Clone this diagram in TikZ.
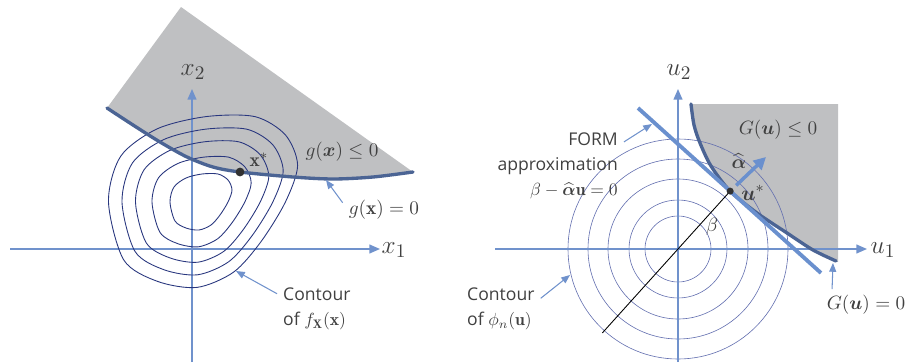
\documentclass[tikz,border=0pt]{standalone}
\usepackage{fontspec}
\usepackage{amsmath}
\usetikzlibrary{arrows.meta, positioning, calc}
\newfontfamily\labelfont{Open Sans}
\definecolor{axisblue}{RGB}{112,146,204}
\definecolor{formblue}{RGB}{106,144,206}
\definecolor{limitblue}{RGB}{75,100,148}
\definecolor{contournavy}{RGB}{40,54,126}
\definecolor{circleblue}{RGB}{100,112,176}
\definecolor{regiongray}{RGB}{191,192,194}
\definecolor{textgray}{RGB}{64,64,64}
\definecolor{dotgray}{RGB}{50,50,50}

\begin{document}
\begin{tikzpicture}[
			x=0.02cm, y=-0.02cm,
			axis/.style={draw=axisblue, line width=0.85pt, -{Triangle[length=6pt,width=5pt]}},
			axislabel/.style={font=\fontsize{15}{18}\selectfont, text=textgray},
			mathlabel/.style={font=\fontsize{11}{13}\selectfont, text=textgray},
			note/.style={font=\labelfont\fontsize{10}{14.2}\selectfont, text=textgray, align=left},
			callout/.style={draw=axisblue, line width=0.6pt, -{Triangle[length=5pt,width=4pt]}},
			contourline/.style={draw=contournavy, line width=0.5pt},
			ringline/.style={draw=circleblue, line width=0.35pt},
			limitline/.style={draw=limitblue, line width=1.9pt, line cap=round},
			formline/.style={draw=formblue, line width=2.2pt},
			alphaarrow/.style={draw=formblue, line width=2pt, -{Triangle[length=7pt,width=7pt]}},
			betaline/.style={draw=black, line width=0.5pt},
			dot/.style={circle, fill=dotgray, inner sep=0pt, minimum size=#1}
			]
			
			\useasboundingbox (0,0) rectangle (910,362);
			
			\fill[regiongray] (181,7) -- plot[smooth] coordinates {(107,108) (133,125) (160,142) (187,157) (213,167) (240,172) (293,177) (333,179) (373,177) (413,172)} -- cycle;
			
			\coordinate (x1from) at (10,249);
			\coordinate (x1to) at (380,249);
			\coordinate (x2from) at (192,362);
			\coordinate (x2to) at (192,89);
			\draw[axis] (x1from) -- (x1to);
			\draw[axis] (x2from) -- (x2to);
			
			\foreach \s in {1,1.6,2.15,2.6,3.05}
			\draw[contourline, shift={(200,202)}, scale=\s] plot[smooth cycle] coordinates {(-30,0) (-26,-15) (-14,-24) (2,-28) (18,-28) (28,-22) (32,-12) (28,0) (20,13) (11,23) (-1,28) (-14,26) (-25,19)};
			
			\draw[limitline] plot[smooth] coordinates {(107,108) (133,125) (160,142) (187,157) (213,167) (240,172) (293,177) (333,179) (373,177) (413,172)};
			
			\node[dot=5pt] (xstar) at (240,172) {};
			\node[mathlabel] (xstarlbl) at (259,160) {$\mathbf{x}^*$};
			\node[axislabel] (x1lbl) at (394,250) {$x_1$};
			\node[axislabel] (x2lbl) at (193,72) {$x_2$};
			\node[mathlabel] (gless) at (342,152) {$g(\boldsymbol{x}) \le 0$};
			\node[mathlabel] (gzero) at (384,210) {$g(\mathbf{x}) = 0$};
			\node[note, anchor=west] (contleft) at (277,309) {Contour\\of $f_{\mathbf{X}}(\mathbf{x})$};
			
			\coordinate (gtip) at (326,180);
			\coordinate (ctipleft) at (236,271);
			\draw[callout] (gzero.170) -- (gtip);
			\draw[callout] (contleft.159) -- (ctipleft);
			
			\coordinate (o2) at (678,249);
			\fill[regiongray] (838,104) -- plot[smooth] coordinates {(691,104) (694,125) (700,143) (711,166) (730,191) (757,213) (787,233) (813,250) (836,261)} -- (838,262) -- cycle;
			
			\foreach \r in {33,49,70,90,110}
			\draw[ringline] (o2) circle (\r);
			
			\coordinate (u1from) at (495,249);
			\coordinate (u1to) at (867,249);
			\coordinate (u2from) at (678,362);
			\coordinate (u2to) at (678,89);
			\draw[axis] (u1from) -- (u1to);
			\draw[axis] (u2from) -- (u2to);
			
			\coordinate (f1) at (638,108);
			\coordinate (f2) at (821,273);
			\coordinate (ustar) at ($(f1)!(o2)!(f2)$);
			\coordinate (blow) at ($(o2)!-1.45!(ustar)$);
			\coordinate (atip) at (766,157);
			\draw[betaline] (blow) -- (ustar);
			
			\draw[limitline] plot[smooth] coordinates {(691,104) (694,125) (700,143) (711,166) (730,191) (757,213) (787,233) (813,250) (836,261)};
			\draw[formline] (f1) -- (f2);
			
			\node[dot=4pt] (udot) at (ustar) {};
			\draw[alphaarrow, shorten <=2.5pt] (udot) -- (atip);
			
			\node[axislabel] (u1lbl) at (883,250) {$u_1$};
			\node[axislabel] (u2lbl) at (679,72) {$u_2$};
			\node[mathlabel, inner sep=1pt] (alphalbl) at (739,161) {$\widehat{\boldsymbol{\alpha}}$};
			\node[mathlabel, font=\fontsize{13}{15}\selectfont] (ustarlbl) at (753,193) {$\boldsymbol{u}^*$};
			\node[mathlabel] (betalbl) at (712,227) {$\beta$};
			\node[mathlabel] (glessr) at (778,130) {$G(\boldsymbol{u}) \le 0$};
			\node[mathlabel] (gzeror) at (866,305) {$G(\boldsymbol{u}) = 0$};
			\node[note, align=right, anchor=east] (formlbl) at (624,166) {FORM\\approximation\\$\beta - \widehat{\boldsymbol{\alpha}}\mathbf{u} = 0$};
			\node[note, anchor=west] (contright) at (461,309) {Contour\\of $\phi_n(\mathbf{u})$};
			
			\coordinate (gutip) at (833,263);
			\coordinate (ftip) at (652,124);
			\coordinate (ctipright) at (570,275);
			\draw[callout] (gzeror.155) -- (gutip);
			\draw[callout] (formlbl.20) -- (ftip);
			\draw[callout] (contright.15) -- (ctipright);
		\end{tikzpicture}
\end{document}
